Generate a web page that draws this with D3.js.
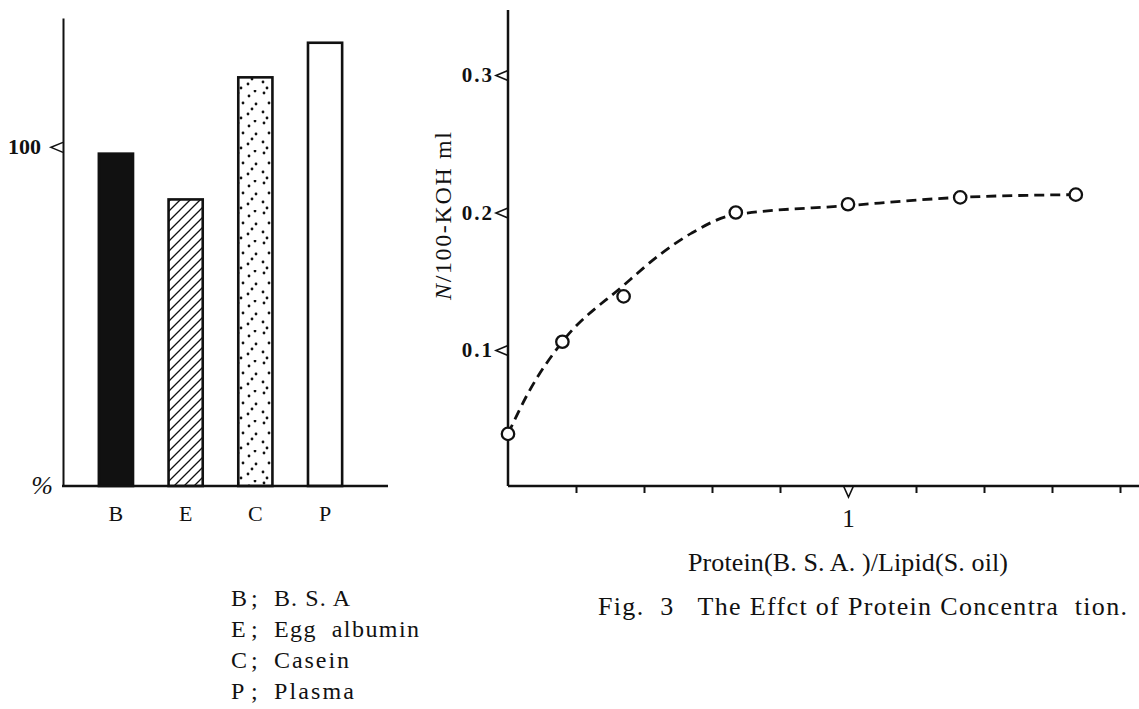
<!DOCTYPE html>
<html>
<head>
<meta charset="utf-8">
<script src="https://cdn.jsdelivr.net/npm/d3@7"></script>
<style>
  body { margin: 0; background: #fff; }
  svg text { font-family: 'Liberation Serif', 'DejaVu Serif', serif; fill: #111; }
</style>
</head>
<body>
<div class="canvas"></div>
<script>
// left chart: relative activity (%)
const proteins = ['B', 'E', 'C', 'P']
const activity = [98, 84.5, 120.5, 130.7]
const legendNames = ['B. S. A', 'Egg  albumin', 'Casein', 'Plasma']
const leftTicks = [100]

// right chart: N/100-KOH ml vs protein/lipid ratio
const ratio = [0, 0.16, 0.34, 0.67, 1.0, 1.33, 1.67]
const koh = [0.039, 0.106, 0.139, 0.200, 0.206, 0.211, 0.213]
// hand drawn dashed curve through the points
const fitRatio = [0, 0.06, 0.16, 0.34, 0.45, 0.54, 0.66, 1.0, 1.33, 1.67]
const fitKoh = [0.039, 0.069, 0.106, 0.147, 0.170, 0.185, 0.198, 0.205, 0.211, 0.213]
const rightTicks = [0.1, 0.2, 0.3]
const ratioTicks = [0.2, 0.4, 0.6, 0.8, 1, 1.2, 1.4, 1.6, 1.8]

const svg = d3.select('.canvas').append('svg')
  .attr('width', 1139)
  .attr('height', 709)

const defs = svg.append('defs')

const hatch = defs.append('pattern')
  .attr('id', 'hatch')
  .attr('patternUnits', 'userSpaceOnUse')
  .attr('width', 10)
  .attr('height', 10)
hatch.append('rect').attr('width', 10).attr('height', 10).attr('fill', '#fff')
hatch.append('path')
  .attr('d', 'M-1,11 L11,-1 M-6,6 L6,-6 M4,16 L16,4')
  .attr('stroke', '#111')
  .attr('stroke-width', 1.3)

const dots = defs.append('pattern')
  .attr('id', 'dots')
  .attr('patternUnits', 'userSpaceOnUse')
  .attr('width', 26)
  .attr('height', 30)
dots.append('rect').attr('width', 26).attr('height', 30).attr('fill', '#fff')
dots.selectAll('circle')
  .data([[4, 3], [15, 6], [22, 14], [9, 13], [3, 22], [14, 24], [21, 1], [18, 19], [7, 28]])
  .enter().append('circle')
  .attr('cx', d => d[0])
  .attr('cy', d => d[1])
  .attr('r', 1.4)
  .attr('fill', '#111')

const fills = ['#111', 'url(#hatch)', 'url(#dots)', '#fff']

// ---------- left bar chart ----------
const left = svg.append('g')

const x1 = d3.scaleBand()
  .domain(proteins)
  .range([64, 377])
  .paddingInner(0.51)
  .paddingOuter(0.5)

const y1 = d3.scaleLinear()
  .domain([0, 138])
  .range([486, 18])

left.selectAll('rect')
  .data(activity)
  .enter().append('rect')
  .attr('x', (d, i) => x1(proteins[i]))
  .attr('y', d => y1(d))
  .attr('width', x1.bandwidth())
  .attr('height', d => y1(0) - y1(d))
  .attr('fill', (d, i) => fills[i])
  .attr('stroke', '#111')
  .attr('stroke-width', 2.6)

const yAxis1 = d3.axisLeft(y1)
  .tickValues(leftTicks)
  .tickSize(0)
  .tickPadding(22)
  .tickSizeOuter(0)

const yAxisGroup1 = left.append('g')
  .attr('transform', 'translate(63,0)')
  .call(yAxis1)
yAxisGroup1.select('.domain').attr('stroke', '#111').attr('stroke-width', 2)
yAxisGroup1.selectAll('.tick').append('path')
  .attr('d', 'M0,-5 L-12,0 L0,5')
  .attr('fill', 'none')
  .attr('stroke', '#111')
  .attr('stroke-width', 1.6)
yAxisGroup1.selectAll('.tick text')
  .style('font-size', '22px')
  .style('font-weight', 'bold')

const xAxis1 = d3.axisBottom(x1)
  .tickSize(0)
  .tickPadding(19)

const xAxisGroup1 = left.append('g')
  .attr('transform', 'translate(0,486)')
  .call(xAxis1)
xAxisGroup1.select('.domain').remove()
xAxisGroup1.selectAll('text').style('font-size', '22px')

left.append('line')
  .attr('x1', 62).attr('x2', 388)
  .attr('y1', 486).attr('y2', 486)
  .attr('stroke', '#111')
  .attr('stroke-width', 2.5)

left.append('text')
  .attr('x', 42).attr('y', 494)
  .attr('text-anchor', 'middle')
  .style('font-size', '26px')
  .style('font-style', 'italic')
  .text('%')

const legendWidths = [76, 145, 75, 80]
const legend = left.append('g')
  .selectAll('g')
  .data(proteins)
  .enter().append('g')
  .attr('transform', (d, i) => `translate(231,${606 + i * 31})`)
legend.append('text').style('font-size', '24px').text(d => d)
legend.append('text').attr('x', 20).style('font-size', '24px').text(';')
legend.append('text')
  .attr('x', 43)
  .style('font-size', '24px')
  .style('white-space', 'pre')
  .attr('textLength', (d, i) => legendWidths[i])
  .attr('lengthAdjust', 'spacing')
  .text((d, i) => legendNames[i])

// ---------- right line chart ----------
const right = svg.append('g')

const x2 = d3.scaleLinear()
  .domain([0, 1.85])
  .range([508, 1137])

const y2 = d3.scaleLinear()
  .domain([0, 0.3])
  .range([487.5, 75])

const yAxis2 = d3.axisLeft(y2)
  .tickValues(rightTicks)
  .tickSize(0)
  .tickPadding(14)
  .tickSizeOuter(0)
  .tickFormat(d3.format('.1f'))

const yAxisGroup2 = right.append('g')
  .attr('transform', 'translate(508,0)')
  .call(yAxis2)
yAxisGroup2.select('.domain')
  .attr('d', `M0,${y2(0) - 1.5}V10`)
  .attr('stroke', '#111')
  .attr('stroke-width', 2.5)
yAxisGroup2.selectAll('.tick').append('path')
  .attr('d', 'M0,-5 L-12,0 L0,5')
  .attr('fill', 'none')
  .attr('stroke', '#111')
  .attr('stroke-width', 1.6)
yAxisGroup2.selectAll('.tick text')
  .style('font-size', '21px')
  .style('font-weight', 'bold')
  .style('letter-spacing', '2px')

const xAxis2 = d3.axisBottom(x2)
  .tickValues(ratioTicks)
  .tickSize(7)
  .tickPadding(16)
  .tickSizeOuter(0)
  .tickFormat(d => d === 1 ? '1' : '')

const xAxisGroup2 = right.append('g')
  .attr('transform', `translate(0,${y2(0) - 1.5})`)
  .call(xAxis2)
xAxisGroup2.select('.domain')
  .attr('d', `M${x2(0)},0H1139`)
  .attr('stroke', '#111')
  .attr('stroke-width', 2.5)
xAxisGroup2.selectAll('.tick line').attr('stroke', '#111').attr('stroke-width', 2)
xAxisGroup2.selectAll('.tick').filter(d => d === 1).select('line').remove()
xAxisGroup2.selectAll('.tick').filter(d => d === 1).append('path')
  .attr('d', 'M-5,0 L0,11 L5,0')
  .attr('fill', 'none')
  .attr('stroke', '#111')
  .attr('stroke-width', 1.6)
xAxisGroup2.selectAll('.tick text').style('font-size', '25px')

const fitLine = d3.line()
  .x(d => x2(d[0]))
  .y(d => y2(d[1]))
  .curve(d3.curveMonotoneX)

right.append('path')
  .datum(fitRatio.map((r, i) => [r, fitKoh[i]]))
  .attr('d', fitLine)
  .attr('fill', 'none')
  .attr('stroke', '#111')
  .attr('stroke-width', 2.8)
  .attr('stroke-dasharray', '10,6')

right.selectAll('circle')
  .data(ratio.map((r, i) => [r, koh[i]]))
  .enter().append('circle')
  .attr('cx', d => x2(d[0]))
  .attr('cy', d => y2(d[1]))
  .attr('r', 6.2)
  .attr('fill', '#fff')
  .attr('stroke', '#111')
  .attr('stroke-width', 2.3)

const yLabel = right.append('text')
  .attr('transform', 'translate(451,216) rotate(-90)')
  .attr('text-anchor', 'middle')
  .style('font-size', '24px')
  .attr('textLength', 168)
  .attr('lengthAdjust', 'spacing')
yLabel.append('tspan').style('font-style', 'italic').text('N')
yLabel.append('tspan').text('/100-KOH ml')

right.append('text')
  .attr('x', 848).attr('y', 571)
  .attr('text-anchor', 'middle')
  .style('font-size', '26px')
  .style('white-space', 'pre')
  .attr('textLength', 320)
  .attr('lengthAdjust', 'spacing')
  .text('Protein(B. S. A. )/Lipid(S. oil)')

right.append('text')
  .attr('x', 598).attr('y', 615)
  .style('font-size', '26px')
  .style('white-space', 'pre')
  .attr('textLength', 529)
  .attr('lengthAdjust', 'spacing')
  .text('Fig.  3   The Effct of Protein Concentra  tion.')
</script>
</body>
</html>
